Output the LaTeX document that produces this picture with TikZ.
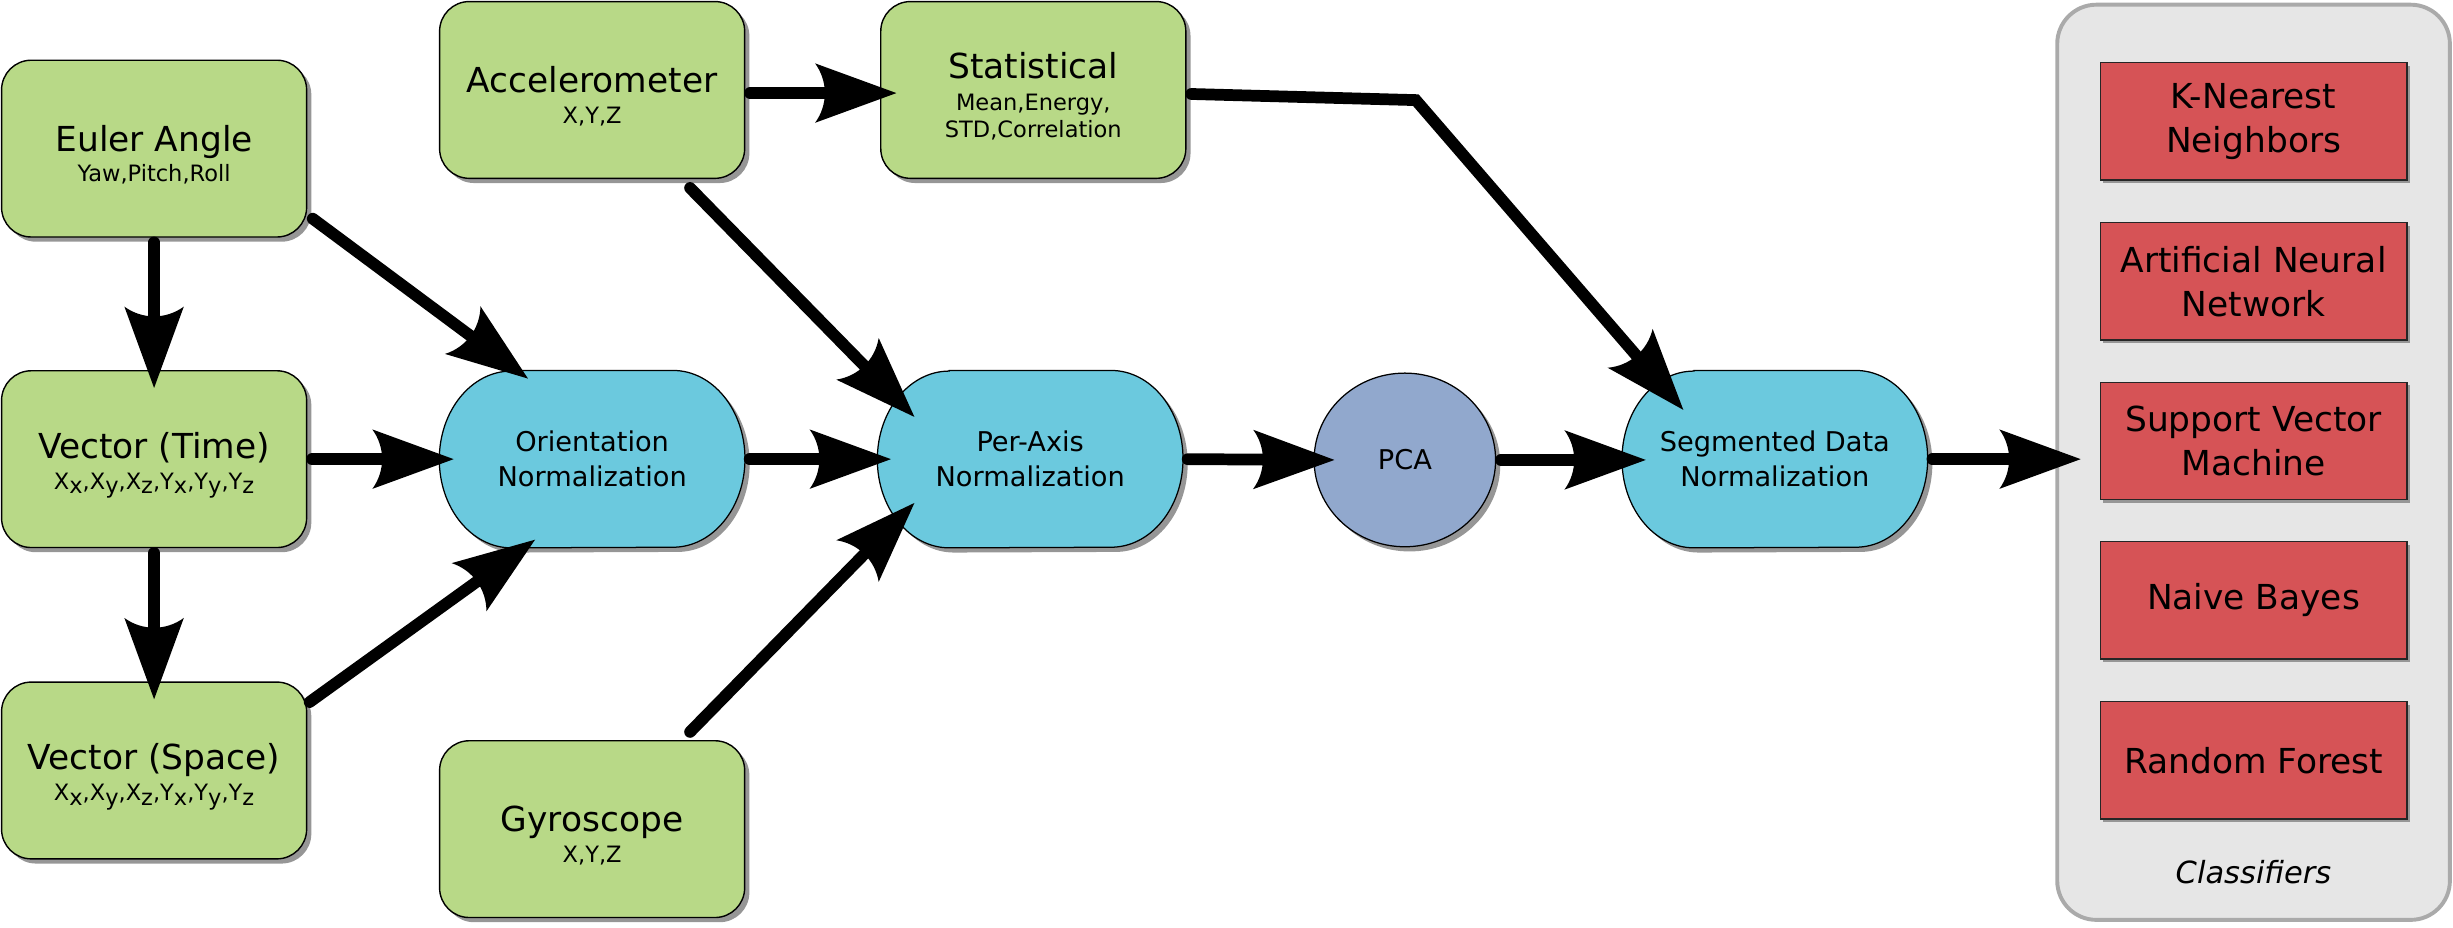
\documentclass[tikz,border=0pt]{standalone}
\usepackage{fontspec}
\setmainfont{DejaVu Sans}
\usetikzlibrary{arrows.meta,shapes.geometric,shadows,calc,backgrounds}
\definecolor{boxgreen}{RGB}{184,217,135}
\definecolor{boxblue}{RGB}{107,201,222}
\definecolor{boxpca}{RGB}{145,168,205}
\definecolor{boxred}{RGB}{214,83,86}
\definecolor{panelgray}{RGB}{230,230,230}
\definecolor{panelborder}{RGB}{170,170,170}
\definecolor{shadowgray}{RGB}{150,150,150}
\newcommand\fbig{\fontsize{22}{26}\selectfont}
\newcommand\fsub{\fontsize{14.4}{19.5}\selectfont}
\newcommand\fmid{\fontsize{17.4}{22.4}\selectfont}
\newcommand\fcls{\fontsize{22}{28}\selectfont}
\newcommand\sbx[1]{\raisebox{-3pt}{#1}}
\newcommand\stadiumpath[2]{($(#1.north west)+(46pt,0pt)+(#2)$) -- ($(#1.north east)+(-46pt,0pt)+(#2)$) arc[start angle=90,end angle=-90,x radius=46pt,y radius=56.5pt] -- ($(#1.south west)+(46pt,0pt)+(#2)$) arc[start angle=270,end angle=90,x radius=46pt,y radius=56.5pt] -- cycle}
\pgfdeclarearrow{
  name=InkHead,
  parameters={\the\pgfarrowlength,\the\pgfarrowwidth},
  setup code={
    \pgfarrowssettipend{\pgfarrowlength}
    \pgfarrowssetbackend{0pt}
    \pgfarrowssetlineend{.5\pgfarrowlength}
    \pgfarrowssetvisualbackend{.12\pgfarrowlength}
    \pgfarrowshullpoint{\pgfarrowlength}{0pt}
    \pgfarrowsupperhullpoint{0pt}{.5\pgfarrowwidth}
    \pgfarrowssavethe\pgfarrowlength
    \pgfarrowssavethe\pgfarrowwidth
  },
  drawing code={
    \pgfpathmoveto{\pgfqpoint{\pgfarrowlength}{0pt}}
    \pgfpathlineto{\pgfqpoint{0pt}{.5\pgfarrowwidth}}
    \pgfpathcurveto{\pgfqpoint{.16\pgfarrowlength}{.2\pgfarrowwidth}}{\pgfqpoint{.16\pgfarrowlength}{-.2\pgfarrowwidth}}{\pgfqpoint{0pt}{-.5\pgfarrowwidth}}
    \pgfpathclose
    \pgfusepathqfill
  },
  defaults={length=52pt,width=38pt}
}
\tikzset{
  shad/.style={drop shadow={shadow xshift=3pt,shadow yshift=-3pt,fill=shadowgray,opacity=1}},
  greenbox/.style={draw=black,line width=0.9pt,fill=boxgreen,rounded corners=19pt,minimum width=195pt,minimum height=113pt,inner sep=0pt,shad,
    label={[align=center,font=\fsub,yshift=-4pt,inner sep=0pt]center:{#1}}},
  normbox/.style={minimum width=195pt,minimum height=113pt,inner sep=0pt,align=center,font=\fmid},
  pcastyle/.style={ellipse,draw=black,line width=0.8pt,fill=boxpca,minimum width=116pt,minimum height=111pt,inner sep=0pt,font=\fmid,shad},
  redbox/.style={draw=black!85,line width=0.8pt,fill=boxred,minimum width=196pt,minimum height=75pt,inner sep=0pt,align=center,font=\fcls,
    drop shadow={shadow xshift=2pt,shadow yshift=-2pt,fill=shadowgray,opacity=1}},
  panelbox/.style={draw=panelborder,line width=2.5pt,fill=panelgray,rounded corners=25pt,minimum width=251pt,minimum height=585pt},
  arr/.style={line width=7.5pt,line cap=round,line join=miter,shorten <=3pt,
    -{InkHead[length=52pt,width=38pt]}},
}
\begin{document}
\begin{tikzpicture}[x=1pt,y=-1pt]
\useasboundingbox (0,0) rectangle (1568,593);
% classifiers panel
\node[panelbox] (panel) at (1440.5,295.5) {};
\node[redbox] (knn) at (1440.5,77.5) {K-Nearest\\Neighbors};
\node[redbox] (ann) at (1440.5,179.8) {Artificial Neural\\Network};
\node[redbox] (svm) at (1440.5,281.8) {Support Vector\\Machine};
\node[redbox] (nb) at (1440.5,383.7) {Naive Bayes};
\node[redbox] (rf) at (1440.5,486) {Random Forest};
\node[anchor=base,font=\fontsize{19.5}{22}\selectfont\itshape] (clslabel) at (1440.5,565) {Classifiers};
% green boxes
\node[greenbox={{\fbig Euler Angle}\\Yaw,Pitch,Roll}] (euler) at (98.5,95) {};
\node[greenbox={{\fbig Vector (Time)}\\X\sbx{x},X\sbx{y},X\sbx{z},Y\sbx{x},Y\sbx{y},Y\sbx{z}}] (vtime) at (98.5,293.5) {};
\node[greenbox={{\fbig Vector (Space)}\\X\sbx{x},X\sbx{y},X\sbx{z},Y\sbx{x},Y\sbx{y},Y\sbx{z}}] (vspace) at (98.5,492.5) {};
\node[greenbox={{\fbig Accelerometer}\\X,Y,Z}] (accel) at (378.5,57.5) {};
\node[greenbox={{\fbig Gyroscope}\\X,Y,Z}] (gyro) at (378.5,530) {};
\node[greenbox={{\fbig Statistical}\\[1pt]Mean,Energy,\\[-2.5pt]STD,Correlation}] (stat) at (660.5,57.5) {};
% normalization stages
\node[normbox] (orient) at (378.5,293.5) {Orientation\\Normalization};
\node[normbox] (peraxis) at (658.5,293.5) {Per-Axis\\Normalization};
\node[pcastyle] (pca) at (898,294) {PCA};
\node[normbox] (seg) at (1134.5,293.5) {Segmented Data\\Normalization};
\begin{pgfonlayer}{background}
\foreach \n in {orient,peraxis,seg}{
  \fill[shadowgray] \stadiumpath{\n}{3pt,-3pt};
  \filldraw[fill=boxblue,draw=black,line width=0.8pt] \stadiumpath{\n}{0pt,0pt};
}
\end{pgfonlayer}
% connectors
\coordinate (bend) at (905,64);
\coordinate (clsin) at (1330,293.5);
\draw[arr] (euler.south) -- ($(vtime.center)+(0,-45.5)$);
\draw[arr] (vtime.south) -- ($(vspace.center)+(0,-45.5)$);
\draw[arr] ($(euler.center)+(99,43)$) -- ($(orient.center)+(-41,-51.5)$);
\draw[arr] (vtime.east) -- ($(orient.center)+(-88.5,0)$);
\draw[arr] ($(vspace.center)+(97,-42)$) -- ($(orient.center)+(-36.5,51.5)$);
\draw[arr] ($(accel.center)+(60.5,60.5)$) -- ($(peraxis.center)+(-74,-27)$);
\draw[arr] (orient.east) -- ($(peraxis.center)+(-89,0)$);
\draw[arr] ($(gyro.center)+(60.5,-60)$) -- ($(peraxis.center)+(-74,28)$);
\draw[arr] ($(accel.east)+(0,2)$) -- ($(stat.center)+(-87.5,2)$);
\draw[arr] (peraxis.east) -- ($(pca.center)+(-45,0)$);
\draw[arr] (pca.east) -- ($(seg.center)+(-82.5,0.5)$);
\draw[arr] ($(stat.east)+(0,2.5)$) -- (bend) -- ($(seg.center)+(-58.5,-31.5)$);
\draw[arr] (seg.east) -- (clsin);
\end{tikzpicture}
\end{document}
